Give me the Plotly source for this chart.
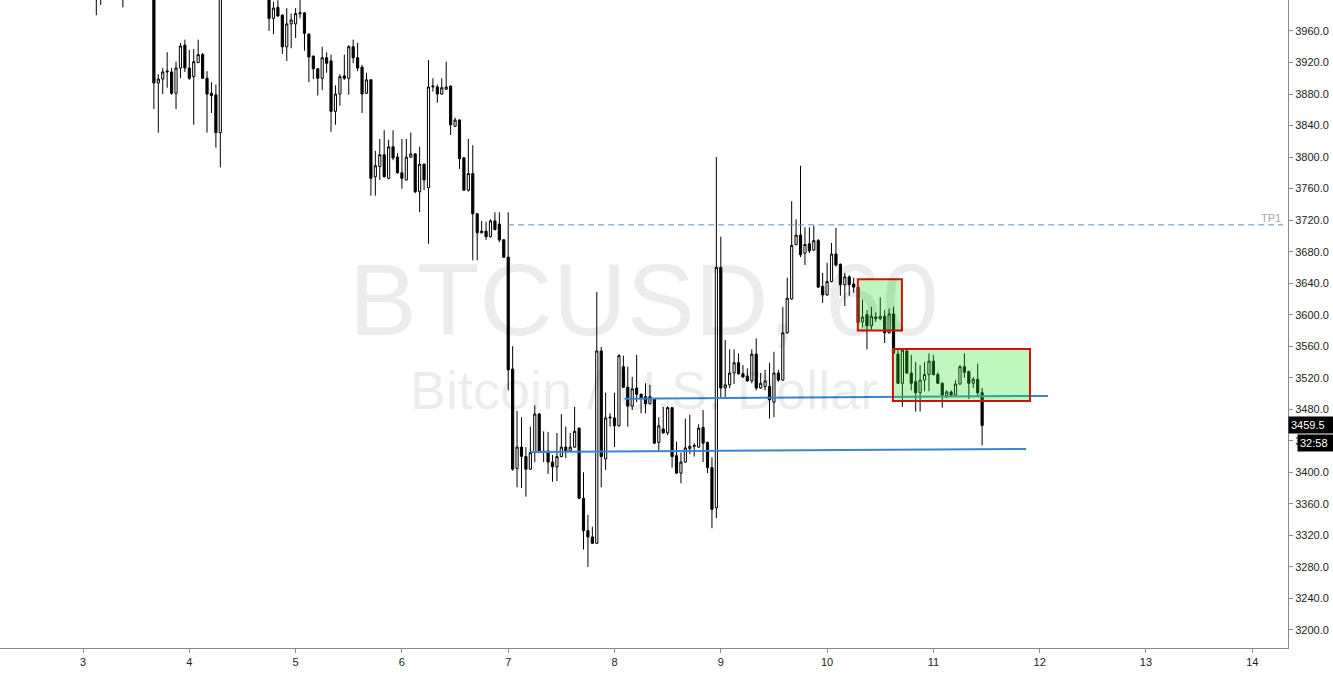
import plotly.graph_objects as go

# hourly candles, hour index counted from day 3 00:00
hours = list(range(0, 204))

opens = [4040,4030,4015,4010,4005,4012,4030,4040,4025,4015,4020,4035,4050,4040,4030,4025,
         4020,3894,3899,3908,3908,3881,3913,3942,3913,3902,3920,3930,3900,3881,3879,3831,
         4020,4040,4030,4038,4025,4032,4020,4028,4015,4010,
         4005,3976,3990,3980,3940,3969,3969,3982,3983,3956,3928,3912,3900,3926,3922,3858,3880,3903,
         3900,3940,3926,3914,3881,3898,3775,3788,3803,3773,3813,3800,3780,3771,3800,3804,3756,3791,
         3761,3889,3889,3880,3886,3890,3839,3847,3799,3758,3779,3728,3704,3706,3699,3719,3715,3695,
         3673,3531,3405,3432,3420,3404,3425,3474,3427,3427,3413,3407,3420,3432,3427,3432,3456,3367,
         3326,3318,3310,3554,3417,3469,3469,3459,3534,3508,3484,3507,3499,3496,3487,3493,3438,3455,
         3450,3482,3421,3399,3413,3430,3433,3432,3457,3438,3406,3355,3660,3507,3511,3526,3539,3525,
         3522,3516,3550,3507,3509,3509,3489,3526,3517,3577,3620,3689,3701,3678,3690,3682,3694,3636,
         3625,3642,3677,3664,3638,3648,3639,3635,3591,3600,3586,3597,3595,3598,3577,3601,3550,3513,
         3554,3526,3515,3501,3517,3524,3541,3524,3513,3497,3502,3498,3512,3534,3528,3513,3518,3501]

highs = [4060,4045,4030,4020,4025,4040,4050,4055,4035,4030,4045,4060,4065,4055,4045,4040,
         4030,3905,3913,3933,3913,3921,3945,3949,3936,3937,3949,3932,3909,3895,3892,4040,
         4050,4060,4045,4055,4040,4050,4035,4045,4030,4020,
         4008,3997,3999,3981,3989,3982,3989,4005,3984,3957,3929,3913,3940,3933,3930,3891,3905,3930,
         3942,3949,3945,3917,3907,3899,3808,3823,3834,3822,3834,3805,3823,3823,3831,3805,3813,3792,
         3923,3900,3892,3900,3921,3891,3850,3848,3800,3823,3815,3729,3719,3718,3721,3730,3730,3696,
         3730,3560,3478,3470,3432,3458,3485,3475,3452,3451,3422,3450,3474,3458,3450,3483,3457,3400,
         3346,3331,3629,3559,3501,3475,3501,3550,3548,3534,3521,3549,3500,3513,3511,3494,3470,3483,
         3484,3483,3439,3425,3468,3473,3437,3461,3479,3439,3419,3800,3699,3568,3556,3556,3551,3536,
         3532,3556,3570,3526,3530,3539,3553,3530,3610,3647,3744,3721,3789,3711,3711,3713,3696,3653,
         3666,3691,3710,3665,3653,3650,3647,3636,3619,3606,3610,3603,3622,3606,3608,3610,3555,3556,
         3555,3549,3540,3536,3540,3551,3549,3527,3514,3504,3504,3517,3536,3551,3529,3521,3538,3507]

lows = [4020,4005,4000,3980,3993,4005,4015,4020,4008,3990,4010,4025,4030,4020,4015,4005,
        3861,3831,3880,3888,3879,3861,3900,3908,3898,3841,3919,3899,3831,3856,3812,3787,
        4005,4025,4010,4020,4008,4015,4004,4012,4003,4001,
        3960,3956,3978,3931,3922,3938,3951,3976,3935,3895,3899,3878,3885,3907,3832,3841,3865,3898,
        3879,3919,3909,3856,3880,3751,3751,3771,3774,3772,3796,3779,3760,3770,3799,3754,3730,3758,
        3690,3883,3869,3879,3885,3828,3838,3785,3757,3756,3669,3669,3703,3695,3698,3707,3692,3672,
        3504,3402,3381,3380,3369,3403,3413,3425,3413,3398,3388,3389,3419,3418,3426,3431,3366,3302,
        3280,3309,3309,3381,3403,3458,3432,3458,3507,3458,3479,3489,3475,3475,3486,3436,3427,3449,
        3447,3406,3398,3386,3412,3423,3420,3431,3413,3399,3329,3342,3494,3494,3507,3512,3524,3520,
        3515,3513,3504,3506,3504,3468,3470,3515,3516,3576,3619,3688,3673,3663,3678,3681,3634,3615,
        3624,3641,3661,3624,3611,3624,3628,3589,3584,3556,3581,3591,3593,3564,3576,3550,3512,3483,
        3525,3504,3477,3477,3503,3503,3523,3512,3482,3494,3497,3497,3511,3520,3493,3507,3496,3434]

closes = [4030,4015,4010,4005,4012,4030,4040,4025,4015,4020,4035,4050,4040,4030,4025,4020,
          3894,3899,3908,3909,3881,3913,3941,3913,3900,3921,3930,3900,3880,3878,3831,4020,
          4040,4030,4038,4025,4032,4020,4028,4015,4010,4005,
          3976,3989,3979,3940,3969,3974,3982,3983,3957,3927,3912,3900,3926,3919,3858,3880,3902,3900,
          3940,3926,3913,3880,3898,3773,3789,3803,3775,3813,3799,3780,3773,3800,3804,3756,3791,3771,
          3889,3890,3880,3888,3889,3841,3847,3798,3758,3779,3728,3704,3706,3699,3719,3708,3695,3673,
          3530,3404,3432,3420,3404,3425,3474,3426,3426,3413,3407,3420,3432,3427,3432,3452,3367,3326,
          3318,3310,3554,3420,3469,3470,3459,3548,3508,3484,3506,3499,3494,3487,3496,3437,3459,3450,
          3482,3420,3399,3413,3431,3433,3434,3456,3437,3406,3353,3660,3507,3511,3526,3539,3525,3521,
          3516,3550,3507,3513,3516,3492,3526,3517,3577,3621,3688,3701,3676,3689,3681,3694,3635,3625,
          3642,3677,3663,3638,3648,3638,3635,3590,3597,3586,3598,3595,3598,3577,3601,3551,3513,3555,
          3526,3513,3501,3517,3524,3541,3524,3513,3498,3502,3498,3512,3534,3527,3513,3518,3501,3459.5]

x_days = [3 + h / 24 for h in hours]

day_ticks = [3, 4, 5, 6, 7, 8, 9, 10, 11, 12, 13, 14]
price_ticks = list(range(3200, 3961, 40))

last_price = 3459.5
countdown = "32:58"
tp1_level = 3714
# drawn levels: (x0, y0, x1, y1)
support_upper = (8.095, 3493.5, 12.079, 3497.0)
support_lower = (7.210, 3425.8, 11.872, 3429.6)
zone_1 = (10.289, 3580, 10.704, 3645)
zone_2 = (10.619, 3490.5, 11.909, 3556.5)

fig = go.Figure()
fig.add_trace(go.Candlestick(
    x=x_days, open=opens, high=highs, low=lows, close=closes,
    increasing=dict(line=dict(color="#000000", width=1), fillcolor="#ffffff"),
    decreasing=dict(line=dict(color="#000000", width=1), fillcolor="#000000"),
    hoverinfo="skip", showlegend=False,
))

shapes = []
# TP1 dashed line
shapes.append(dict(type="line", xref="x", yref="y", x0=7.0, x1=14.29, y0=tp1_level, y1=tp1_level,
                   line=dict(color="#5b8bb5", width=1, dash="6px,4px"), layer="above"))
for seg in (support_upper, support_lower):
    shapes.append(dict(type="line", xref="x", yref="y", x0=seg[0], y0=seg[1], x1=seg[2], y1=seg[3],
                       line=dict(color="#3a86d0", width=2), layer="above"))
for z in (zone_1, zone_2):
    shapes.append(dict(type="rect", xref="x", yref="y", x0=z[0], y0=z[1], x1=z[2], y1=z[3],
                       fillcolor="rgba(40,225,40,0.30)", line=dict(color="#cc1111", width=2),
                       layer="above"))

annotations = [
    dict(text="BTCUSD, 60", xref="paper", yref="paper", x=0.5, y=0.537, showarrow=False,
         font=dict(family="Liberation Sans, Arial, sans-serif", size=102, color="rgba(0,0,0,0.075)"),
         xanchor="center", yanchor="middle"),
    dict(text="Bitcoin / U.S. Dollar", xref="paper", yref="paper", x=0.5, y=0.398, showarrow=False,
         font=dict(family="Liberation Sans, Arial, sans-serif", size=54, color="rgba(0,0,0,0.075)"),
         xanchor="center", yanchor="middle"),
    dict(text="TP1", xref="x", yref="y", x=14.29, y=tp1_level, showarrow=False,
         xanchor="right", yanchor="bottom", yshift=-1,
         font=dict(family="Liberation Sans, Arial, sans-serif", size=11, color="#a8a8a8")),
    dict(text=f"{last_price:.1f}", xref="paper", yref="y", x=1, y=last_price, showarrow=False,
         xanchor="left", yanchor="middle", bgcolor="#000000", borderpad=2, width=41, align="left",
         font=dict(family="Liberation Sans, Arial, sans-serif", size=11, color="#ffffff")),
    dict(text=countdown, xref="paper", yref="y", x=1, xshift=9, y=3437.5, showarrow=False,
         xanchor="left", yanchor="middle", bgcolor="#000000", borderpad=2, width=32, align="left",
         font=dict(family="Liberation Sans, Arial, sans-serif", size=11, color="#ffffff")),
]

fig.update_layout(
    width=1333, height=673,
    margin=dict(l=0, r=45, t=0, b=25),
    paper_bgcolor="#ffffff", plot_bgcolor="#ffffff",
    shapes=shapes, annotations=annotations,
    showlegend=False,
    font=dict(family="Liberation Sans, Arial, sans-serif", size=11, color="#222222"),
    xaxis=dict(
        type="linear", range=[2.219, 14.336], rangeslider=dict(visible=False),
        tickvals=day_ticks, ticktext=[str(d) for d in day_ticks],
        showgrid=False, zeroline=False, showline=True, linecolor="#8a8a8a", linewidth=1,
        ticks="outside", ticklen=4, tickcolor="#8a8a8a",
        tickfont=dict(size=11, color="#222222"), fixedrange=True,
    ),
    yaxis=dict(
        side="right", range=[3177.1, 3999.3],
        tickvals=price_ticks, ticktext=[f"{p:.1f}" for p in price_ticks],
        showgrid=False, zeroline=False, showline=True, linecolor="#8a8a8a", linewidth=1,
        ticks="outside", ticklen=4, tickcolor="#8a8a8a",
        tickfont=dict(size=11, color="#222222"), fixedrange=True,
    ),
)

fig.write_html(
    "out.html",
    config={"displayModeBar": False},
    post_script="document.body.style.margin='0';document.body.style.padding='0';"
                "document.body.style.overflow='hidden';",
)
